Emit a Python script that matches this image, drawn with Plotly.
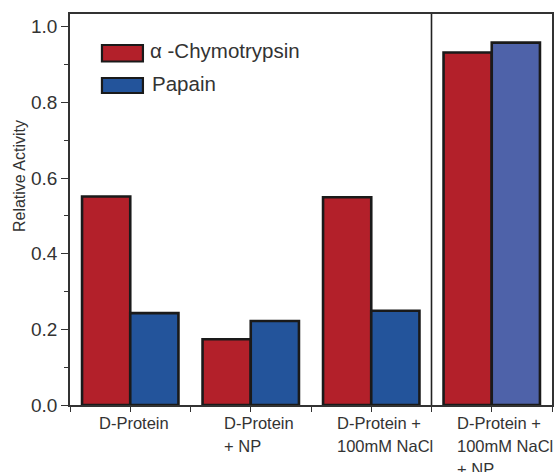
import plotly.graph_objects as go

# ---- data ----
categories = ["D-Protein", "D-Protein<br>+ NP", "D-Protein +<br>100mM NaCl", "D-Protein +<br>100mM NaCl<br>+ NP"]
group_pos = [1, 3, 5, 7]
label_left_offset = [-0.56, -0.48, -0.61, -0.61]
chymotrypsin = [0.551, 0.174, 0.549, 0.932]
papain = [0.243, 0.222, 0.249, 0.958]
series_names = ["α -Chymotrypsin", "Papain"]
y_ticks = [0.0, 0.2, 0.4, 0.6, 0.8, 1.0]

RED = "#B3202A"
BLUE = "#23549B"
BLUE_LIGHT = "#4E62A9"
FONT = "Liberation Sans, Arial, sans-serif"
TXT = "#333333"

W, H = 555, 472
PL, PR, PT, PB = 70, 552.5, 14, 405  # plot area in reference pixels
L = PL
T = PT
R = W - PR
B = H - PB


def px(x):
    return (x - PL) / (PR - PL)


def py(y):
    return (PB - y) / (PB - PT)


fig = go.Figure()
fig.add_trace(go.Bar(
    x=group_pos, y=chymotrypsin, name=series_names[0],
    offset=-0.8, width=0.8,
    marker=dict(color=RED, line=dict(color="#1a1a1a", width=2.6)),
    showlegend=False,
))
fig.add_trace(go.Bar(
    x=group_pos, y=papain, name=series_names[1],
    offset=0.0, width=0.8,
    marker=dict(color=[BLUE, BLUE, BLUE, BLUE_LIGHT], line=dict(color="#1a1a1a", width=2.6)),
    showlegend=False,
))

shapes = [
    dict(type="line", xref="x", yref="paper", x0=6, x1=6, y0=0, y1=1,
         line=dict(color="#222222", width=1.6)),
    dict(type="rect", xref="paper", yref="paper",
         x0=px(102), x1=px(143), y0=py(61.5), y1=py(45),
         fillcolor=RED, line=dict(color="#1a1a1a", width=2.2)),
    dict(type="rect", xref="paper", yref="paper",
         x0=px(102), x1=px(143), y0=py(93), y1=py(78),
         fillcolor=BLUE, line=dict(color="#1a1a1a", width=2.2)),
]

annotations = [
    dict(text=series_names[0], xref="paper", yref="paper", x=px(148), y=py(51),
         xanchor="left", yanchor="middle", showarrow=False,
         font=dict(family=FONT, size=20.5, color=TXT)),
    dict(text=series_names[1], xref="paper", yref="paper", x=px(150), y=py(83),
         xanchor="left", yanchor="middle", showarrow=False,
         font=dict(family=FONT, size=20.5, color=TXT)),
    dict(text="Relative Activity", xref="paper", yref="paper", x=px(19), y=py(176),
         xanchor="center", yanchor="middle", textangle=-90, showarrow=False,
         font=dict(family=FONT, size=16, color=TXT)),
]
for gx, off, lab in zip(group_pos, label_left_offset, categories):
    for k, line in enumerate(lab.split("<br>")):
        annotations.append(dict(
            text=line, xref="x", yref="paper", x=gx + off, y=py(423 + 23 * k),
            xanchor="left", yanchor="middle", showarrow=False,
            font=dict(family=FONT, size=16.5, color=TXT)))

fig.update_layout(
    width=W, height=H,
    margin=dict(l=L, r=R, t=T, b=B),
    paper_bgcolor="white", plot_bgcolor="white",
    barmode="overlay",
    shapes=shapes, annotations=annotations,
    font=dict(family=FONT, color=TXT),
)
fig.update_xaxes(
    range=[0, 8], tickvals=list(range(0, 9)), ticktext=[""] * 9,
    ticks="outside", ticklen=5, tickwidth=1.3, tickcolor="#333333",
    showline=True, linecolor="#333333", linewidth=1.5, mirror=True,
    showgrid=False, zeroline=False,
)
fig.update_yaxes(
    range=[0, 1.0336], tickvals=y_ticks, ticktext=[f"{v:.1f}" for v in y_ticks],
    ticks="outside", ticklen=7, tickwidth=1.3, tickcolor="#333333",
    minor=dict(dtick=0.1, ticks="outside", ticklen=4, tickwidth=1.2, tickcolor="#333333"),
    showline=True, linecolor="#333333", linewidth=1.5, mirror=True,
    showgrid=False, zeroline=False,
    tickfont=dict(family=FONT, size=19, color=TXT),
)

fig.write_html(
    "out.html",
    config={"displayModeBar": False},
    post_script="document.body.style.margin='0';document.body.style.overflow='hidden';",
)
